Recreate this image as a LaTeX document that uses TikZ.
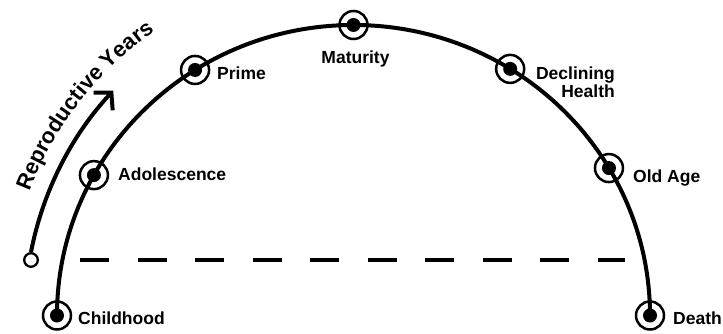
\documentclass[tikz,border=0pt]{standalone}
\usepackage{fontspec}
\setmainfont{Liberation Sans}
\usetikzlibrary{arrows.meta,decorations.text,calc}
\begin{document}
\begin{tikzpicture}[x=1pt,y=1pt,
  ring/.style={circle,draw,line width=2.5pt,minimum size=28pt,inner sep=0pt},
  dotfill/.style={fill=black},
  lbl/.style={font=\bfseries\fontsize{17.5}{18}\selectfont,inner sep=0pt},
  curve/.style={line width=4pt},
  dashline/.style={line width=4.5pt,dash pattern=on 29pt off 28.5pt},
  opencirc/.style={circle,draw,fill=white,line width=2.3pt,minimum size=13.6pt,inner sep=0pt}
]
\useasboundingbox (0,0) rectangle (723,333);
\coordinate (C) at (353.5,17.5);

% main arc
\draw[curve] ($(C)+(180:296.5pt and 290.5pt)$) arc[start angle=180,end angle=0,x radius=296.5pt,y radius=290.5pt];

% markers
\node[ring] (child) at ($(C)+(180:296.5pt and 290.5pt)$) {};
\node[ring] (adol)  at ($(C)+(151.1:296.5pt and 290.5pt)$) {};
\node[ring] (prime) at ($(C)+(122.3:296.5pt and 290.5pt)$) {};
\node[ring] (mat)   at ($(C)+(90:296.5pt and 290.5pt)$) {};
\node[ring] (decl)  at ($(C)+(58.1:296.5pt and 290.5pt)$) {};
\node[ring] (old)   at ($(C)+(30.5:296.5pt and 290.5pt)$) {};
\node[ring] (death) at ($(C)+(0:296.5pt and 290.5pt)$) {};
\foreach \n in {child,adol,prime,mat,decl,old,death}
  \fill[dotfill] (\n.center) circle[radius=7pt];

% labels
\node[lbl,anchor=base west] (lchild) at (78,9) {Childhood};
\node[lbl,anchor=base west] (ladol) at (118,153) {Adolescence};
\node[lbl,anchor=base west] (lprime) at (217,254) {Prime};
\node[lbl,anchor=base] (lmat) at (355.5,270) {Maturity};
\node[lbl,anchor=north east,align=right] (ldecl) at (615,266) {Declining\\Health};
\node[lbl,anchor=base west] (lold) at (633,151) {Old Age};
\node[lbl,anchor=base west] (ldeath) at (673,9) {Death};

% dashed line
\coordinate (dl) at (80,73);
\coordinate (dr) at (625,73);
\draw[dashline] (dl) -- (dr);

% reproductive years arrow
\node[opencirc] (rstart) at (31,73) {};
\draw[curve,-{Straight Barb[length=12pt,width=26pt]}] (rstart.north) arc[start angle=169,end angle=137,radius=328.5pt];

% curved text
\path[decorate,decoration={text along path,text align=center,
  text={|\bfseries\fontsize{22}{24}\selectfont|Reproductive Years}}]
  ($(C)+(161:347pt)$) arc[start angle=161,end angle=123,radius=347pt];
\end{tikzpicture}
\end{document}
